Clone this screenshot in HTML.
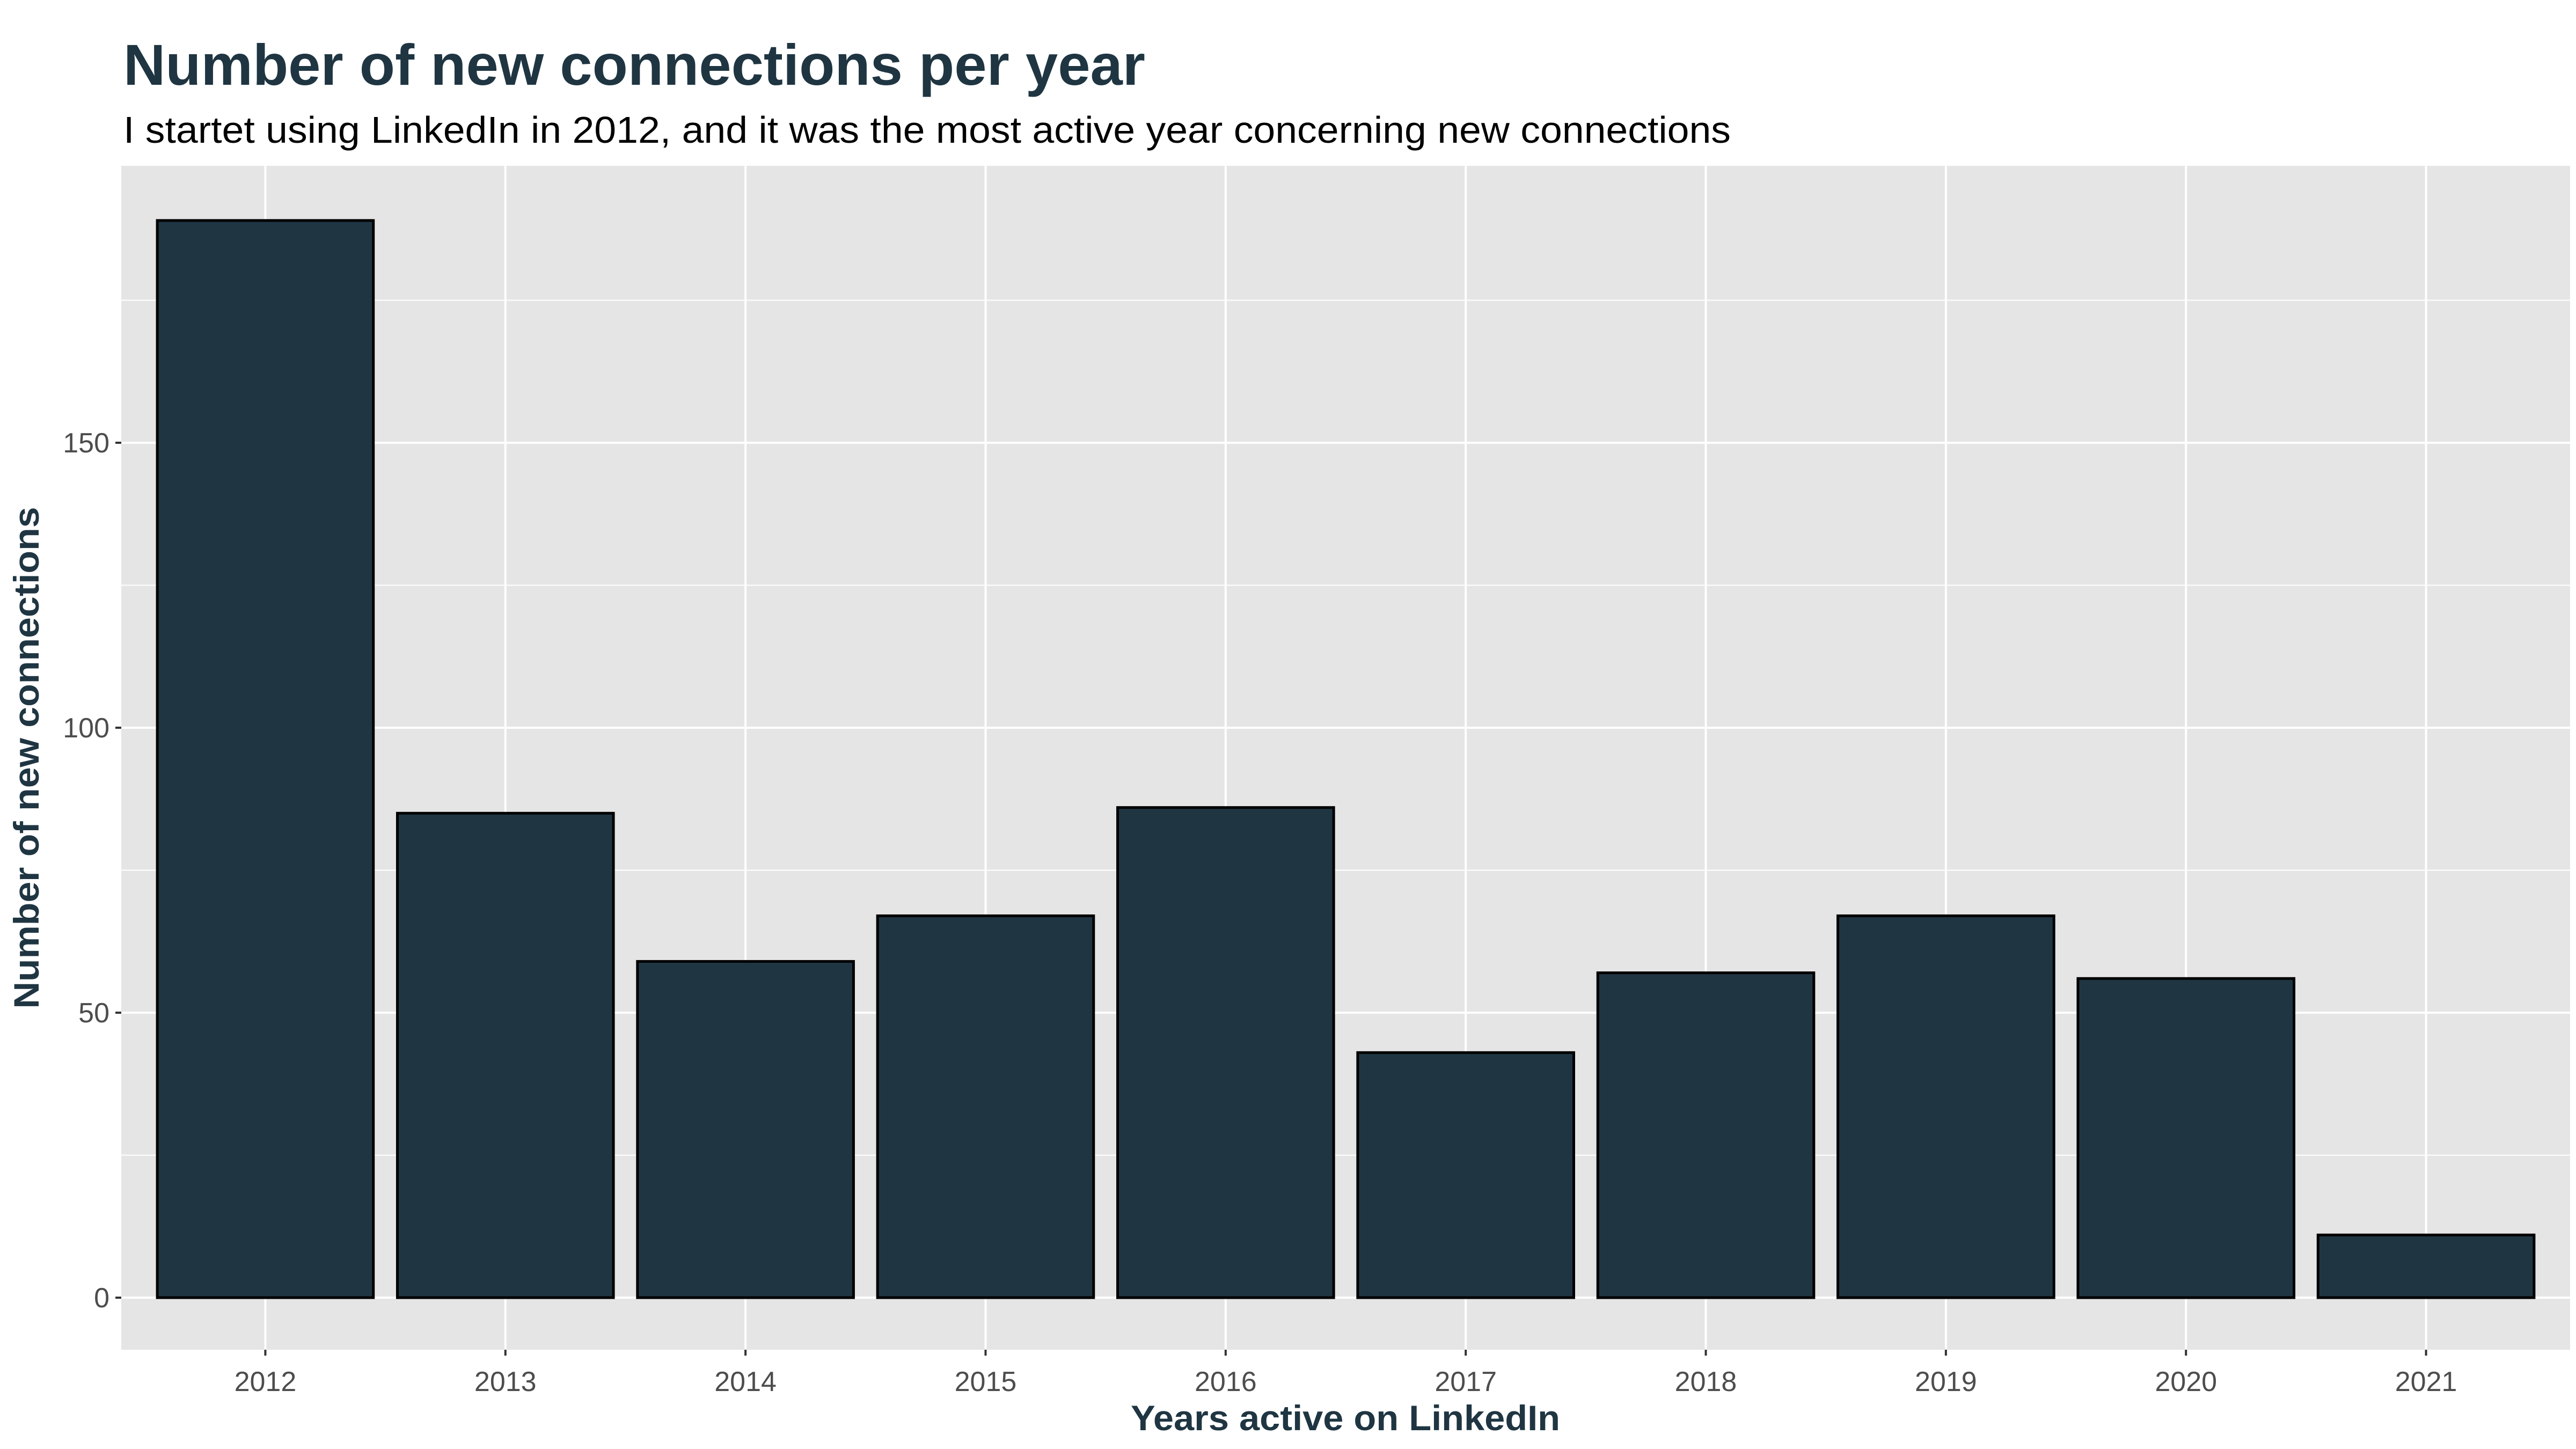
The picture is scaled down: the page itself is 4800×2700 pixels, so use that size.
<!DOCTYPE html>
<html><head><meta charset="utf-8"><style>
html,body{margin:0;padding:0;background:#fff;}
svg{display:block;}
</style></head><body>
<svg id="chart" width="4800" height="2700" viewBox="0 0 4800 2700" xmlns="http://www.w3.org/2000/svg" font-family="'Liberation Sans', sans-serif">
<rect width="4800" height="2700" fill="#fff"/>
<text x="230" y="158" font-size="108" font-weight="bold" fill="#1f3542" textLength="1904" lengthAdjust="spacingAndGlyphs">Number of new connections per year</text>
<text x="230" y="266" font-size="70" fill="#000" textLength="2995" lengthAdjust="spacingAndGlyphs">I startet using LinkedIn in 2012, and it was the most active year concerning new connections</text>
<rect x="226" y="309" width="4563" height="2206" fill="#e5e5e5"/>
<g id="grid"></g>
<g id="bars"></g>
<g id="axes"></g>
<text x="2507" y="2665" font-size="66" font-weight="bold" fill="#1f3542" text-anchor="middle" textLength="800" lengthAdjust="spacingAndGlyphs">Years active on LinkedIn</text>
<text transform="translate(72,1412) rotate(-90)" font-size="66" font-weight="bold" fill="#1f3542" text-anchor="middle" textLength="935" lengthAdjust="spacingAndGlyphs">Number of new connections</text>
</svg>
<script>
const years = ['2012','2013','2014','2015','2016','2017','2018','2019','2020','2021'];
const connections = [189, 85, 59, 67, 86, 43, 57, 67, 56, 11];
const yTicks = [0, 50, 100, 150];
const yMinorTicks = [25, 75, 125, 175];

const NS = 'http://www.w3.org/2000/svg';
const panelL = 226, panelR = 4789, panelT = 309, panelB = 2515;
const y0 = 2418, pxPerUnit = 10.62;
const step = (panelR - panelL) / (years.length - 1 + 1.2);
function xScale(i){ return panelL + step * (0.6 + i); }
function yScale(v){ return y0 - v * pxPerUnit; }
function mk(tag, attrs){ const e = document.createElementNS(NS, tag); for (const k in attrs) e.setAttribute(k, attrs[k]); return e; }

const grid = document.getElementById('grid');
yMinorTicks.forEach(v => {
  const l = mk('line', {x1: panelL, x2: panelR, y1: yScale(v), y2: yScale(v), stroke: '#fff', 'stroke-width': 2});
  
  
  grid.appendChild(l);
});
yTicks.forEach(v => {
  const l = mk('line', {x1: panelL, x2: panelR, y1: yScale(v), y2: yScale(v), stroke: '#fff', 'stroke-width': 4});
  
  
  grid.appendChild(l);
});
years.forEach((y, i) => {
  const l = mk('line', {x1: xScale(i), x2: xScale(i), y1: panelT, y2: panelB, stroke: '#fff', 'stroke-width': 4});
  
  
  grid.appendChild(l);
});

const bars = document.getElementById('bars');
const bw = step * 0.9;
connections.forEach((v, i) => {
  const r = mk('rect', {x: xScale(i) - bw / 2, y: yScale(v), width: bw, height: v * pxPerUnit, fill: '#1f3542', stroke: '#000', 'stroke-width': 5});
  
  
  bars.appendChild(r);
});

const axes = document.getElementById('axes');
yTicks.forEach(v => {
  const t = mk('line', {x1: panelL - 11, x2: panelL, y1: yScale(v), y2: yScale(v), stroke: '#333', 'stroke-width': 4});
  
  
  axes.appendChild(t);
  const lb = mk('text', {x: panelL - 22, y: yScale(v) + 18, 'font-size': 52, fill: '#4d4d4d', 'text-anchor': 'end'});
  lb.textContent = String(v);
  
  
  axes.appendChild(lb);
});
years.forEach((y, i) => {
  const t = mk('line', {x1: xScale(i), x2: xScale(i), y1: panelB, y2: panelB + 11, stroke: '#333', 'stroke-width': 4});
  
  
  axes.appendChild(t);
  const lb = mk('text', {x: xScale(i), y: 2592, 'font-size': 52, fill: '#4d4d4d', 'text-anchor': 'middle'});
  lb.textContent = y;
  
  
  axes.appendChild(lb);
});
</script>
</body></html>
